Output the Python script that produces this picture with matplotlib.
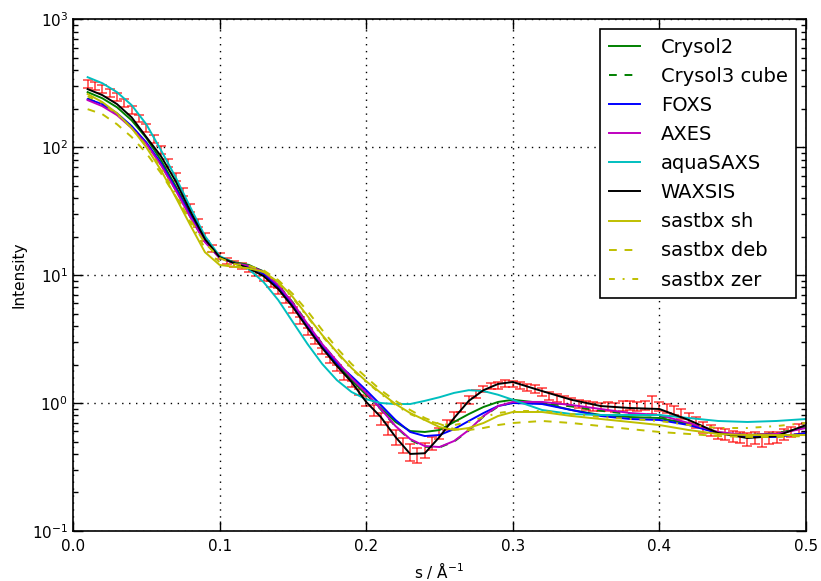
import numpy as np
import matplotlib
matplotlib.use("Agg")
import matplotlib.pyplot as plt

## Model curves (s in 1/A, intensity)
s_model = [0.01, 0.02, 0.03, 0.04, 0.05, 0.06, 0.07, 0.08, 0.09, 0.10,
           0.11, 0.12, 0.13, 0.14, 0.15, 0.16, 0.17, 0.18, 0.19, 0.20,
           0.21, 0.22, 0.23, 0.24, 0.25, 0.26, 0.27, 0.28, 0.29, 0.30,
           0.32, 0.34, 0.36, 0.38, 0.40, 0.42, 0.44, 0.46, 0.48, 0.50]

crysol2 = [269, 241, 205, 162, 118, 79.2, 49.6, 30.0, 18.8, 13.8,
           12.6, 12.0, 10.6, 8.20, 5.94, 4.07, 2.79, 2.02, 1.51, 1.16,
           0.914, 0.711, 0.604, 0.594, 0.615, 0.711, 0.820, 0.931, 1.02, 1.06,
           1.00, 0.882, 0.806, 0.777, 0.764, 0.686, 0.583, 0.562, 0.573, 0.649]

crysol3 = [240, 214, 181, 143, 107, 73.0, 46.5, 28.6, 18.3, 13.6,
           12.5, 11.9, 10.7, 8.40, 6.10, 4.18, 2.90, 2.12, 1.56, 1.19,
           0.89, 0.655, 0.515, 0.455, 0.450, 0.50, 0.61, 0.785, 0.94, 1.01,
           1.00, 0.94, 0.87, 0.82, 0.79, 0.69, 0.59, 0.56, 0.58, 0.65]

foxs = [237, 217, 184, 146, 109, 75.0, 47.8, 29.4, 18.8, 13.8,
        12.4, 11.6, 10.2, 8.06, 5.83, 4.00, 2.79, 2.05, 1.62, 1.26,
        0.965, 0.737, 0.594, 0.552, 0.562, 0.626, 0.724, 0.835, 0.947, 1.00,
        0.982, 0.882, 0.792, 0.750, 0.737, 0.673, 0.583, 0.543, 0.543, 0.583]

axes_ = [233, 209, 178, 141, 106, 72.4, 46.1, 28.4, 18.1, 13.6,
         12.4, 11.8, 10.6, 8.35, 6.04, 4.14, 2.89, 2.13, 1.57, 1.20,
         0.898, 0.661, 0.523, 0.461, 0.453, 0.505, 0.615, 0.792, 0.947, 1.02,
         1.02, 0.965, 0.898, 0.835, 0.806, 0.698, 0.594, 0.562, 0.573, 0.638]

aquasaxs = [352, 316, 269, 213, 151, 94.7, 58.3, 34.0, 20.2, 14.1,
            12.4, 11.1, 8.82, 6.38, 4.29, 2.89, 2.02, 1.51, 1.22, 1.07,
            1.00, 0.982, 0.982, 1.04, 1.11, 1.20, 1.26, 1.24, 1.16, 1.06,
            0.882, 0.820, 0.806, 0.806, 0.806, 0.764, 0.724, 0.711, 0.724, 0.750]

waxsis = [284, 255, 217, 171, 120, 85.1, 54.3, 31.6, 19.1, 13.8,
          12.4, 11.3, 9.82, 7.77, 5.62, 3.85, 2.69, 1.95, 1.46, 1.02,
          0.777, 0.543, 0.400, 0.405, 0.543, 0.764, 1.04, 1.26, 1.41, 1.46,
          1.24, 1.06, 0.947, 0.914, 0.898, 0.737, 0.583, 0.533, 0.552, 0.673]

sastbx_sh = [260, 225, 184, 141, 100, 66.1, 40.7, 24.6, 15.1, 12.0,
             11.6, 11.3, 10.6, 8.82, 6.73, 4.78, 3.40, 2.50, 1.88, 1.48,
             1.20, 0.982, 0.835, 0.737, 0.649, 0.615, 0.638, 0.698, 0.792, 0.851,
             0.851, 0.792, 0.750, 0.711, 0.673, 0.615, 0.573, 0.562, 0.562, 0.562]

sastbx_deb = [198, 181, 151, 120, 89.8, 62.6, 41.4, 26.9, 17.8, 13.6,
              12.2, 11.8, 10.9, 9.14, 7.11, 5.23, 3.72, 2.69, 2.02, 1.59,
              1.26, 1.04, 0.882, 0.764, 0.686, 0.626, 0.615, 0.638, 0.673, 0.698,
              0.724, 0.698, 0.661, 0.626, 0.594, 0.573, 0.552, 0.543, 0.543, 0.552]

sastbx_zer = [250, 221, 181, 141, 102, 68.6, 42.9, 26.0, 16.2, 12.6,
              11.8, 11.3, 10.6, 8.66, 6.61, 4.70, 3.34, 2.46, 1.84, 1.46,
              1.18, 0.965, 0.820, 0.737, 0.686, 0.673, 0.711, 0.777, 0.835, 0.866,
              0.866, 0.820, 0.777, 0.750, 0.724, 0.673, 0.638, 0.638, 0.661, 0.698]

## Experimental data
s_exp = np.arange(0.010, 0.5001, 0.005)
i_exp = [311, 300, 284, 264, 246, 221, 195, 168, 141, 116,
         94.7, 75.0, 58.3, 44.5, 33.4, 25.5, 19.8, 16.2, 14.1, 12.9,
         12.2, 11.8, 11.1, 10.4, 9.47, 8.51, 7.50, 6.38, 5.33, 4.45,
         3.65, 3.05, 2.55, 2.17, 1.88, 1.62, 1.41, 1.22, 1.04, 0.882,
         0.750, 0.638, 0.543, 0.470, 0.414, 0.392, 0.429, 0.487, 0.583, 0.673,
         0.792, 0.931, 1.06, 1.18, 1.29, 1.36, 1.38, 1.43, 1.41, 1.38,
         1.33, 1.29, 1.22, 1.13, 1.09, 1.06, 1.02, 0.982, 0.965, 0.947,
         0.931, 0.947, 0.931, 0.947, 0.965, 0.947, 0.965, 0.982, 0.947, 0.914,
         0.882, 0.820, 0.764, 0.711, 0.649, 0.615, 0.583, 0.573, 0.552, 0.543,
         0.523, 0.533, 0.514, 0.533, 0.543, 0.573, 0.594, 0.626, 0.649]
err_frac = [0.07] * 18 + [0.05] * 10 + [0.06] * 10 + \
    [0.09, 0.10, 0.11, 0.12, 0.13, 0.14, 0.15, 0.14, 0.13, 0.12] + \
    [0.10, 0.09, 0.08, 0.08, 0.07, 0.07, 0.06, 0.06, 0.06, 0.06] + \
    [0.06, 0.06, 0.06, 0.07, 0.07, 0.07, 0.07, 0.07, 0.07, 0.07] + \
    [0.08, 0.08, 0.07, 0.08, 0.08, 0.09, 0.08, 0.08, 0.08, 0.16] + \
    [0.08, 0.08, 0.08, 0.09, 0.09, 0.10, 0.10, 0.10, 0.10, 0.10] + \
    [0.10, 0.10, 0.11, 0.11, 0.12, 0.11, 0.10, 0.10, 0.09, 0.09, 0.08]

i_exp = np.array(i_exp)
yerr = i_exp * np.array(err_frac)

## Plot
fig = plt.figure(figsize=(8.21, 5.81), dpi=100)
ax = fig.add_axes([0.0889, 0.0861, 0.8928, 0.8809])

ax.errorbar(s_exp, i_exp, yerr=yerr, fmt='none', ecolor='#ff0000',
            elinewidth=1.2, capsize=3.5, capthick=1.2, alpha=0.7, zorder=1)

lw = 1.4
olive = (0.75, 0.75, 0)
ax.plot(s_model, crysol2, color=(0, 0.5, 0), lw=lw, label='Crysol2')
ax.plot(s_model, crysol3, color=(0, 0.5, 0), lw=lw, ls=(0, (4, 4)), label='Crysol3 cube')
ax.plot(s_model, foxs, color='b', lw=lw, label='FOXS')
ax.plot(s_model, axes_, color=(0.75, 0, 0.75), lw=lw, label='AXES')
ax.plot(s_model, aquasaxs, color=(0, 0.75, 0.75), lw=lw, label='aquaSAXS')
ax.plot(s_model, waxsis, color='k', lw=lw, label='WAXSIS')
ax.plot(s_model, sastbx_sh, color=olive, lw=lw, label='sastbx sh')
ax.plot(s_model, sastbx_deb, color=olive, lw=lw, ls=(0, (4, 4)), label='sastbx deb')
ax.plot(s_model, sastbx_zer, color=olive, lw=lw, ls=(0, (3, 4, 1, 4)), label='sastbx zer')

ax.set_yscale('log')
ax.set_xlim(0, 0.5)
ax.set_ylim(0.1, 1000)
ax.set_xticks([0.0, 0.1, 0.2, 0.3, 0.4, 0.5])
ax.set_xticklabels(['0.0', '0.1', '0.2', '0.3', '0.4', '0.5'])

ax.tick_params(which='both', direction='in', top=True, right=True, labelsize=11)
ax.tick_params(which='major', length=7, width=1)
ax.tick_params(which='minor', length=3.5, width=1)
ax.tick_params(axis='x', pad=6)
for sp in ax.spines.values():
    sp.set_linewidth(1.2)

ax.grid(True, which='major', ls=(0, (1, 4)), color='k', lw=1.0)

ax.set_xlabel('s / Å$^{-1}$', fontsize=11)
ax.set_ylabel('Intensity', fontsize=11)

leg = ax.legend(loc='upper right', fontsize=14, fancybox=False,
                edgecolor='k', framealpha=1, labelspacing=0.52,
                handlelength=1.6, handletextpad=1.05, borderpad=0.45,
                borderaxespad=0.5)
leg.get_frame().set_linewidth(1.2)

fig.savefig('out.png', dpi=100)
